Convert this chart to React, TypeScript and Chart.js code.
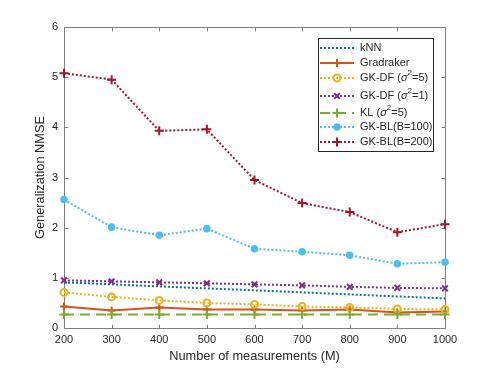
import React, { useEffect, useRef } from "react";
import { Chart, registerables } from "chart.js";

Chart.register(...registerables);

const measurements = [200, 300, 400, 500, 600, 700, 800, 900, 1000];
const knn = [0.91, 0.87, 0.83, 0.79, 0.75, 0.71, 0.67, 0.63, 0.59];
const gradraker = [0.43, 0.35, 0.41, 0.37, 0.37, 0.35, 0.37, 0.31, 0.33];
const gkdf5 = [0.71, 0.62, 0.55, 0.5, 0.47, 0.43, 0.41, 0.38, 0.37];
const gkdf1 = [0.95, 0.93, 0.91, 0.89, 0.87, 0.85, 0.82, 0.8, 0.79];
const kl5 = [0.27, 0.27, 0.27, 0.27, 0.27, 0.27, 0.27, 0.27, 0.27];
const gkbl100 = [2.56, 2.01, 1.85, 1.98, 1.58, 1.52, 1.45, 1.28, 1.31];
const gkbl200 = [5.08, 4.95, 3.93, 3.96, 2.95, 2.49, 2.31, 1.91, 2.07];

const xTicks = [200, 300, 400, 500, 600, 700, 800, 900, 1000];
const yTicks = [0, 1, 2, 3, 4, 5, 6];

const xTitle = "Number of measurements (M)";
const yTitle = "Generalization NMSE";

type Series = {
  name: string[];
  data: number[];
  color: string;
  dash: number[];
  marker: string | null;
  fill: boolean;
  radius: number;
};

const series: Series[] = [
  { name: ["kNN"], data: knn, color: "#0072BD", dash: [2, 2], marker: null, fill: false, radius: 0 },
  { name: ["Gradraker"], data: gradraker, color: "#D95319", dash: [], marker: "plus", fill: false, radius: 4 },
  { name: ["GK-DF (", "σ", "2", "=5)"], data: gkdf5, color: "#EDB120", dash: [2, 2], marker: "circle", fill: false, radius: 3.5 },
  { name: ["GK-DF (", "σ", "2", "=1)"], data: gkdf1, color: "#7E2F8E", dash: [2, 2], marker: "x", fill: false, radius: 4 },
  { name: ["KL (", "σ", "2", "=5)"], data: kl5, color: "#77AC30", dash: [10, 6], marker: "plus", fill: false, radius: 4.5 },
  { name: ["GK-BL(B=100)"], data: gkbl100, color: "#4DBEEE", dash: [2, 2], marker: "circle", fill: true, radius: 2.8 },
  { name: ["GK-BL(B=200)"], data: gkbl200, color: "#A2142F", dash: [2, 2], marker: "plus", fill: false, radius: 4.5 },
];

const FONT = "'Liberation Sans', Arial, Helvetica, sans-serif";
const AXIS_COLOR = "#808080";
const TEXT_COLOR = "#262626";

function drawMarker(ctx: CanvasRenderingContext2D, kind: string, x: number, y: number, r: number, color: string, fill: boolean) {
  ctx.save();
  ctx.setLineDash([]);
  ctx.strokeStyle = color;
  ctx.fillStyle = color;
  ctx.lineWidth = 2;
  ctx.beginPath();
  if (kind === "circle") {
    ctx.arc(x, y, r, 0, Math.PI * 2);
    if (fill) ctx.fill();
    ctx.stroke();
  } else if (kind === "plus") {
    ctx.moveTo(x - r, y);
    ctx.lineTo(x + r, y);
    ctx.moveTo(x, y - r);
    ctx.lineTo(x, y + r);
    ctx.stroke();
  } else if (kind === "x") {
    const d = r * 0.707;
    ctx.moveTo(x - d, y - d);
    ctx.lineTo(x + d, y + d);
    ctx.moveTo(x - d, y + d);
    ctx.lineTo(x + d, y - d);
    ctx.stroke();
  }
  ctx.restore();
}

const customPlugin = {
  id: "matlabStyle",
  beforeDatasetsDraw(chart: any) {
    const { ctx, chartArea, scales } = chart;
    const { left, right, top, bottom } = chartArea;
    ctx.save();
    ctx.strokeStyle = AXIS_COLOR;
    ctx.lineWidth = 1;
    ctx.setLineDash([]);
    const l = Math.round(left) + 0.5;
    const r = Math.round(right) + 0.5;
    const t = Math.round(top) + 0.5;
    const b = Math.round(bottom) + 0.5;
    ctx.beginPath();
    ctx.rect(l, t, r - l, b - t);
    ctx.stroke();
    const tl = 4;
    ctx.beginPath();
    for (const v of xTicks) {
      const px = Math.round(scales.x.getPixelForValue(v)) + 0.5;
      ctx.moveTo(px, b);
      ctx.lineTo(px, b - tl);
      ctx.moveTo(px, t);
      ctx.lineTo(px, t + tl);
    }
    for (const v of yTicks) {
      const py = Math.round(scales.y.getPixelForValue(v)) + 0.5;
      ctx.moveTo(l, py);
      ctx.lineTo(l + tl, py);
      ctx.moveTo(r, py);
      ctx.lineTo(r - tl, py);
    }
    ctx.stroke();

    ctx.fillStyle = TEXT_COLOR;
    ctx.font = `12.8px ${FONT}`;
    ctx.textAlign = "center";
    ctx.textBaseline = "middle";
    ctx.fillText(xTitle, (left + right) / 2, 356);
    ctx.save();
    ctx.translate(40.5, (top + bottom) / 2);
    ctx.rotate(-Math.PI / 2);
    ctx.fillText(yTitle, 0, 0);
    ctx.restore();
    ctx.restore();
  },
  afterDraw(chart: any) {
    const { ctx } = chart;
    ctx.save();
    const bx = 318.5, by = 38.5, bw = 115, bh = 113;
    ctx.fillStyle = "#ffffff";
    ctx.fillRect(bx, by, bw, bh);
    ctx.strokeStyle = "#262626";
    ctx.lineWidth = 1;
    ctx.setLineDash([]);
    ctx.strokeRect(bx, by, bw, bh);
    const rows = [48, 63, 78, 96, 113, 127, 142];
    series.forEach((s, i) => {
      const y = rows[i];
      ctx.save();
      ctx.strokeStyle = s.color;
      ctx.lineWidth = 2;
      ctx.setLineDash(s.dash);
      ctx.beginPath();
      ctx.moveTo(320, y);
      ctx.lineTo(354, y);
      ctx.stroke();
      ctx.restore();
      if (s.marker) drawMarker(ctx, s.marker, 337, y, s.radius, s.color, s.fill);
      ctx.fillStyle = TEXT_COLOR;
      ctx.textAlign = "left";
      ctx.textBaseline = "middle";
      let x = 360;
      ctx.font = `11px ${FONT}`;
      if (s.name.length === 1) {
        ctx.fillText(s.name[0], x, y);
      } else {
        ctx.fillText(s.name[0], x, y);
        x += ctx.measureText(s.name[0]).width;
        ctx.font = `italic 11px ${FONT}`;
        ctx.fillText(s.name[1], x, y);
        x += ctx.measureText(s.name[1]).width;
        ctx.font = `8px ${FONT}`;
        ctx.fillText(s.name[2], x, y - 5);
        x += ctx.measureText(s.name[2]).width;
        ctx.font = `11px ${FONT}`;
        ctx.fillText(s.name[3], x, y);
      }
    });
    ctx.restore();
  },
};

export default function App() {
  const ref = useRef<HTMLCanvasElement | null>(null);
  useEffect(() => {
    document.body.style.margin = "0";
    const canvas = ref.current;
    if (!canvas) return;
    const chart = new Chart(canvas, {
      type: "line",
      data: {
        datasets: series.map((s, i) => ({
          label: s.name.join(""),
          data: s.data.map((v, j) => ({ x: measurements[j], y: v })),
          borderColor: s.color,
          backgroundColor: s.fill ? s.color : "rgba(0,0,0,0)",
          borderWidth: 2,
          borderDash: s.dash,
          pointStyle: s.marker === "circle" ? "circle" : s.marker === "plus" ? "cross" : s.marker === "x" ? "crossRot" : false,
          pointRadius: s.radius,
          pointBorderWidth: 2,
          pointBorderColor: s.color,
          pointBackgroundColor: s.fill ? s.color : "rgba(255,255,255,0)",
          tension: 0,
          clip: false,
          order: -i,
        })) as any,
      },
      options: {
        animation: false,
        responsive: false,
        devicePixelRatio: 1,
        layout: { padding: { top: 27, right: 46, left: 0, bottom: 0 } },
        plugins: { legend: { display: false }, tooltip: { enabled: false } },
        scales: {
          x: {
            type: "linear",
            min: 200,
            max: 1000,
            afterFit: (a: any) => { a.height = 40; },
            afterBuildTicks: (a: any) => { a.ticks = xTicks.map((v) => ({ value: v })); },
            grid: { display: false, drawTicks: false },
            border: { display: false },
            ticks: {
              color: TEXT_COLOR,
              font: { family: FONT, size: 11 },
              padding: 5,
              maxRotation: 0,
              autoSkip: false,
              callback: (v: any) => String(v),
            },
          },
          y: {
            type: "linear",
            min: 0,
            max: 6,
            afterFit: (a: any) => { a.width = 64; },
            afterBuildTicks: (a: any) => { a.ticks = yTicks.map((v) => ({ value: v })); },
            grid: { display: false, drawTicks: false },
            border: { display: false },
            ticks: { color: TEXT_COLOR, font: { family: FONT, size: 11 }, padding: 6, callback: (v: any) => String(v) },
          },
        },
      },
      plugins: [customPlugin],
    });
    return () => chart.destroy();
  }, []);
  return <canvas ref={ref} width={491} height={368} style={{ display: "block", width: 491, height: 368 }} />;
}
